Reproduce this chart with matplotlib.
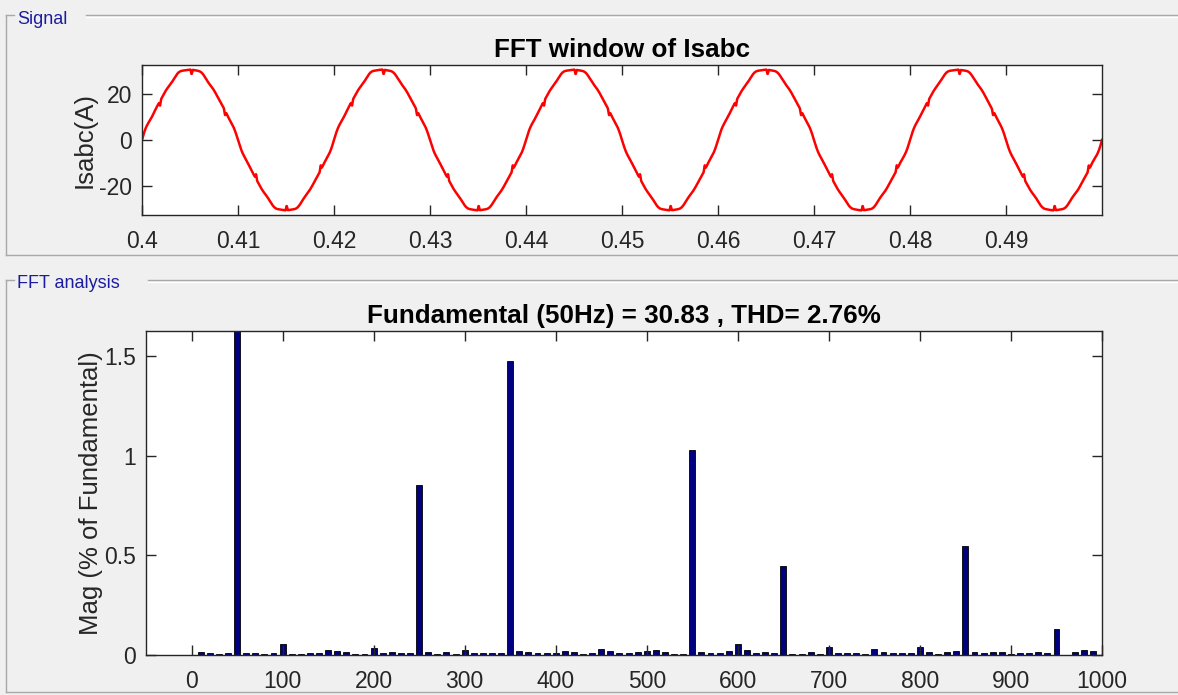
import numpy as np
import matplotlib
matplotlib.use("Agg")
import matplotlib.pyplot as plt
from matplotlib.lines import Line2D

plt.rcParams['font.family'] = ['Liberation Sans', 'DejaVu Sans']
plt.rcParams['axes.unicode_minus'] = False

# ---------------- data ----------------
fundamental_hz = 50
fundamental_amp = 30.83
thd_percent = 2.76
t_start, t_end = 0.4, 0.5

# FFT bars (10 Hz resolution), magnitude in % of fundamental
freqs = list(range(0, 1000, 10))
mags = [
    0.000, 0.015, 0.008, 0.003, 0.010, 100.0, 0.010, 0.010, 0.004, 0.008,   # 0-90
    0.055, 0.004, 0.004, 0.008, 0.008, 0.025, 0.018, 0.013, 0.004, 0.007,   # 100-190
    0.033, 0.012, 0.015, 0.008, 0.008, 0.855, 0.017, 0.004, 0.013, 0.004,   # 200-290
    0.023, 0.012, 0.008, 0.008, 0.008, 1.475, 0.018, 0.013, 0.010, 0.008,   # 300-390
    0.012, 0.022, 0.017, 0.005, 0.012, 0.030, 0.018, 0.010, 0.010, 0.013,   # 400-490
    0.020, 0.025, 0.013, 0.007, 0.007, 1.030, 0.013, 0.012, 0.012, 0.018,   # 500-590
    0.053, 0.023, 0.010, 0.017, 0.012, 0.445, 0.003, 0.003, 0.013, 0.007,   # 600-690
    0.042, 0.012, 0.008, 0.010, 0.007, 0.030, 0.013, 0.010, 0.008, 0.008,   # 700-790
    0.038, 0.013, 0.005, 0.013, 0.018, 0.550, 0.015, 0.010, 0.015, 0.017,   # 800-890
    0.003, 0.008, 0.008, 0.013, 0.008, 0.133, 0.001, 0.017, 0.023, 0.020,   # 900-990
]

# commutation notches within one 20 ms cycle (time offset s), depth in A
notch_offsets = [0.00188, 0.00517, 0.00865, 0.01188, 0.01507, 0.01862]
notch_depth = 2.0
notch_halfwidth = 0.00012

signal_xticks = [0.4, 0.41, 0.42, 0.43, 0.44, 0.45, 0.46, 0.47, 0.48, 0.49]
signal_xticklabels = ['0.4', '0.41', '0.42', '0.43', '0.44', '0.45', '0.46', '0.47', '0.48', '0.49']
signal_yticks = [-20, 0, 20]
fft_xticks = list(range(0, 1001, 100))
fft_yticks = [0, 0.5, 1, 1.5]
fft_yticklabels = ['0', '0.5', '1', '1.5']

# -------------- reconstruct signal from the spectrum --------------
t = np.linspace(t_start, t_end, 5001)
tau = t - t_start
sig = np.zeros_like(t)
for f, m in zip(freqs, mags):
    if f == 0:
        continue
    amp = fundamental_amp * m / 100.0
    sig += amp * np.sin(2 * np.pi * f * tau)
period = 1.0 / fundamental_hz
n_cycles = int(round((t_end - t_start) / period))
for k in range(n_cycles):
    for off in notch_offsets:
        tn = k * period + off
        s = np.sign(np.sin(2 * np.pi * fundamental_hz * tn))
        sig -= s * notch_depth * np.clip(1 - np.abs(tau - tn) / notch_halfwidth, 0, None)

# ---------------- figure ----------------
W, H = 1178, 695
bg = '#f0f0f0'
fig = plt.figure(figsize=(W / 100, H / 100), dpi=100, facecolor=bg)

def fx(px):
    return px / W

def fy(py):
    return 1 - py / H

panel_edge = '#a8a8a8'
panel_text = '#1c1ca0'

def draw_panel(x0, y0, x1, y1, label, text_end, text_dy):
    kw = dict(transform=fig.transFigure, color=panel_edge, lw=1.0)
    fig.add_artist(Line2D([fx(x0), fx(x0)], [fy(y0), fy(y1)], **kw))
    fig.add_artist(Line2D([fx(x0), fx(x1)], [fy(y1), fy(y1)], **kw))
    fig.add_artist(Line2D([fx(x0), fx(x0 + 8)], [fy(y0), fy(y0)], **kw))
    fig.add_artist(Line2D([fx(text_end), fx(x1)], [fy(y0), fy(y0)], **kw))
    fig.add_artist(Line2D([fx(text_end), fx(x1)], [fy(y0 + 2), fy(y0 + 2)],
                          transform=fig.transFigure, color='white', lw=1.0))
    fig.text(fx(x0 + 11), fy(y0 + text_dy), label, color=panel_text, fontsize=13,
             ha='left', va='center')

draw_panel(6, 15, 1180, 255, 'Signal', 86, 4)
draw_panel(6, 280, 1180, 692, 'FFT analysis', 148, 3)

tick_color = '#262626'

def style_axes(ax):
    for sp in ax.spines.values():
        sp.set_color(tick_color)
        sp.set_linewidth(1.0)
    ax.tick_params(direction='in', length=7.5, width=1.0, colors=tick_color,
                   top=True, right=True, labelsize=16.5)
    ax.tick_params(axis='x', pad=11)
    ax.tick_params(axis='y', pad=7)
    ax.set_facecolor('white')

# ---- top: signal ----
ax1 = fig.add_axes([fx(142), fy(215), fx(1102) - fx(142), (215 - 65) / H])
ax1.plot(t, sig, color='#ff0000', lw=1.8)
ax1.set_xlim(t_start, t_end)
ax1.set_ylim(-32.6, 32.6)
ax1.set_xticks(signal_xticks)
ax1.set_xticklabels(signal_xticklabels)
ax1.set_yticks(signal_yticks)
style_axes(ax1)
ax1.set_ylabel('Isabc(A)', fontsize=18.5, color=tick_color, labelpad=2)
ax1.set_title('FFT window of Isabc', fontsize=18.7, fontweight='bold', pad=6)

# ---- bottom: FFT ----
ax2 = fig.add_axes([fx(146), fy(655), fx(1102) - fx(146), (655 - 331) / H])
ax2.bar(freqs, mags, width=6.5, color='#000080', edgecolor='#000000', linewidth=0.6)
ax2.set_xlim(-50, 1000)
ax2.set_ylim(0, 1.628)
ax2.set_xticks(fft_xticks)
ax2.set_yticks(fft_yticks)
ax2.set_yticklabels(fft_yticklabels)
style_axes(ax2)
ax2.set_ylabel('Mag (% of Fundamental)', fontsize=18.5, color=tick_color, labelpad=1)
ax2.set_title(f'Fundamental ({fundamental_hz}Hz) = {fundamental_amp:.2f} , THD= {thd_percent:.2f}%',
              fontsize=18.7, fontweight='bold', pad=6)

fig.savefig('out.png', dpi=100, facecolor=bg)
